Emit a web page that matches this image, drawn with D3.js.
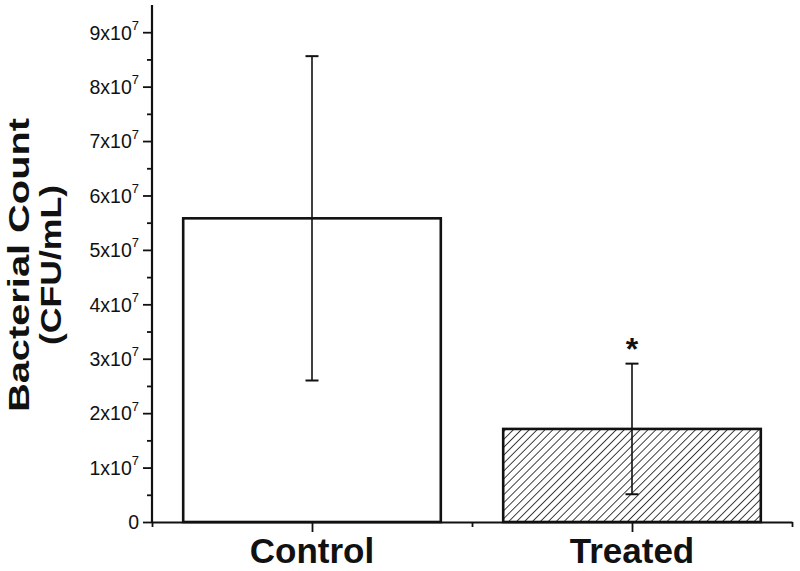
<!DOCTYPE html>
<html>
<head>
<meta charset="utf-8">
<script src="https://cdn.jsdelivr.net/npm/d3@7"></script>
<style>
  html, body { margin: 0; padding: 0; background: #fff; }
  svg { display: block; }
</style>
</head>
<body>
<svg id="chart" width="800" height="571"></svg>
<script>
// ---- data ----
const categories = ["Control", "Treated"];
const means = [5.58e7, 1.71e7];
const errors = [2.98e7, 1.20e7];
const significance = ["", "*"];
const yTickValues = [0, 1e7, 2e7, 3e7, 4e7, 5e7, 6e7, 7e7, 8e7, 9e7];
const yTickMantissa = ["0", "1", "2", "3", "4", "5", "6", "7", "8", "9"];
const yTickExponent = "7";
const yTitleLines = ["Bacterial Count", "(CFU/mL)"];

// ---- layout ----
const svg = d3.select("#chart");
const x = d3.scaleLinear().domain([0, categories.length]).range([152, 792]);
const y = d3.scaleLinear().domain([0, 9.5e7]).range([522, 5]);
const barW = 0.805;
const font = "Liberation Sans, Arial, Helvetica, sans-serif";

// hatch pattern
const defs = svg.append("defs");
const pat = defs.append("pattern")
  .attr("id", "hatch").attr("patternUnits", "userSpaceOnUse")
  .attr("width", 5.6).attr("height", 5.6)
  .attr("patternTransform", "rotate(45)");
pat.append("rect").attr("width", 5.6).attr("height", 5.6).attr("fill", "#fff");
pat.append("line").attr("x1", 0).attr("y1", 0).attr("x2", 0).attr("y2", 5.6)
  .attr("stroke", "#111").attr("stroke-width", 1.6);

// bars
const bars = categories.map((c, i) => ({c, i, m: means[i], e: errors[i], s: significance[i]}));
svg.append("g").selectAll("rect").data(bars).join("rect")
  .attr("x", d => x(d.i + 0.5 - barW / 2))
  .attr("width", d => x(d.i + 0.5 + barW / 2) - x(d.i + 0.5 - barW / 2))
  .attr("y", d => y(d.m))
  .attr("height", d => y(0) - y(d.m))
  .attr("fill", d => d.i === 1 ? "url(#hatch)" : "#fff")
  .attr("stroke", "#111").attr("stroke-width", 2.6);

// error bars
const eb = svg.append("g").attr("stroke", "#111").attr("stroke-width", 1.6);
eb.selectAll("line.v").data(bars).join("line").attr("class", "v")
  .attr("x1", d => x(d.i + 0.5)).attr("x2", d => x(d.i + 0.5))
  .attr("y1", d => y(d.m + d.e)).attr("y2", d => y(d.m - d.e));
eb.selectAll("line.t").data(bars).join("line").attr("class", "t")
  .attr("x1", d => x(d.i + 0.5) - 6.5).attr("x2", d => x(d.i + 0.5) + 6.5)
  .attr("y1", d => y(d.m + d.e)).attr("y2", d => y(d.m + d.e)).attr("stroke-width", 2);
eb.selectAll("line.b").data(bars).join("line").attr("class", "b")
  .attr("x1", d => x(d.i + 0.5) - 6.5).attr("x2", d => x(d.i + 0.5) + 6.5)
  .attr("y1", d => y(d.m - d.e)).attr("y2", d => y(d.m - d.e)).attr("stroke-width", 2);

// significance marks
svg.append("g").selectAll("text").data(bars.filter(d => d.s)).join("text")
  .attr("x", d => x(d.i + 0.5)).attr("y", d => y(d.m + d.e) - 4)
  .attr("text-anchor", "middle").attr("font-family", font)
  .attr("font-weight", "bold").attr("font-size", 32).attr("fill", "#111")
  .text(d => d.s);

// y axis
const yMinor = d3.range(0.5e7, 9.5e7, 1e7);
const yMinorAxis = svg.append("g").attr("transform", `translate(${x(0)},0)`)
  .call(d3.axisLeft(y).tickValues(yMinor).tickSize(5).tickSizeOuter(0).tickFormat(""));
yMinorAxis.select(".domain").remove();
yMinorAxis.selectAll("line").attr("stroke", "#111").attr("stroke-width", 1.8);

const yAxis = svg.append("g").attr("transform", `translate(${x(0)},0)`)
  .call(d3.axisLeft(y).tickValues(yTickValues).tickSize(9).tickSizeOuter(0).tickPadding(4)
    .tickFormat((d, i) => yTickMantissa[i]));
yAxis.select(".domain").attr("stroke", "#111").attr("stroke-width", 2.2)
  .attr("d", `M0,${y(0)}V${y.range()[1]}`);
yAxis.selectAll("line").attr("stroke", "#111").attr("stroke-width", 1.8);
yAxis.selectAll("text").attr("font-family", font).attr("font-size", 19.5).attr("fill", "#111")
  .each(function(d, i) {
    if (d === 0) return;
    const t = d3.select(this);
    t.text(yTickMantissa[i] + "x10");
    t.append("tspan").attr("font-size", 13).attr("dy", "-0.75em").text(yTickExponent);
  })
  .attr("dy", "0.35em");

// x axis
const xAxis = svg.append("g").attr("transform", `translate(0,${y(0)})`)
  .call(d3.axisBottom(x).tickValues(categories.map((c, i) => i + 0.5)).tickSize(10).tickSizeOuter(0)
    .tickFormat(""));
xAxis.select(".domain").attr("stroke", "#111").attr("stroke-width", 2.2);
xAxis.selectAll("line").attr("stroke", "#111").attr("stroke-width", 1.8);
const xMinor = svg.append("g").attr("transform", `translate(0,${y(0)})`)
  .call(d3.axisBottom(x).tickValues(d3.range(0, categories.length + 1)).tickSize(5).tickSizeOuter(0).tickFormat(""));
xMinor.select(".domain").remove();
xMinor.selectAll("line").attr("stroke", "#111").attr("stroke-width", 1.8);

svg.append("g").selectAll("text").data(categories).join("text")
  .attr("x", (d, i) => x(i + 0.5)).attr("y", 563)
  .attr("text-anchor", "middle").attr("font-family", font)
  .attr("font-weight", "bold").attr("font-size", 35).attr("fill", "#111")
  .text(d => d);

// y title
const titleG = svg.append("g").attr("transform", "translate(0,265) rotate(-90)");
titleG.append("text").attr("x", 0).attr("y", 29)
  .attr("text-anchor", "middle").attr("font-family", font).attr("font-weight", "bold")
  .attr("font-size", 30).attr("fill", "#111")
  .attr("textLength", 294).attr("lengthAdjust", "spacingAndGlyphs")
  .text(yTitleLines[0]);
titleG.append("text").attr("x", 0).attr("y", 61)
  .attr("text-anchor", "middle").attr("font-family", font).attr("font-weight", "bold")
  .attr("font-size", 30).attr("fill", "#111")
  .attr("textLength", 160).attr("lengthAdjust", "spacingAndGlyphs")
  .text(yTitleLines[1]);
</script>
</body>
</html>
